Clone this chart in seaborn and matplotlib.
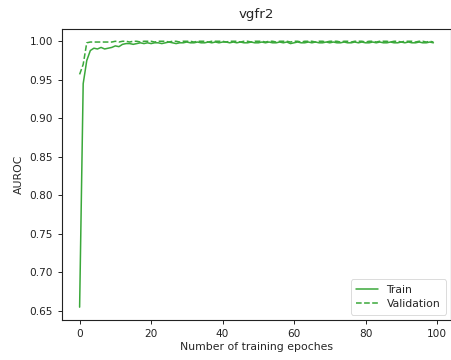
import matplotlib
matplotlib.use("Agg")
import matplotlib.pyplot as plt
import seaborn as sns
import pandas as pd
import numpy as np

title = "vgfr2"
epochs = list(range(100))
train_auroc = [
    0.655, 0.945, 0.975, 0.988, 0.991, 0.990, 0.992, 0.990, 0.991, 0.992,
    0.994, 0.993, 0.996, 0.997, 0.997, 0.996, 0.997, 0.998, 0.997, 0.998,
    0.997, 0.998, 0.998, 0.997, 0.998, 0.999, 0.998, 0.997, 0.998, 0.998,
    0.999, 0.998, 0.998, 0.999, 0.998, 0.998, 0.999, 0.998, 0.999, 0.998,
    0.999, 0.999, 0.998, 0.999, 0.998, 0.999, 0.998, 0.998, 0.999, 0.998,
    0.998, 0.999, 0.998, 0.999, 0.998, 0.998, 0.999, 0.998, 0.999, 0.997,
    0.998, 0.999, 0.998, 0.998, 0.999, 0.998, 0.999, 0.998, 0.998, 0.999,
    0.998, 0.999, 0.998, 0.998, 0.999, 0.998, 0.998, 0.999, 0.998, 0.999,
    0.998, 0.998, 0.999, 0.998, 0.999, 0.998, 0.998, 0.999, 0.998, 0.998,
    0.999, 0.998, 0.999, 0.998, 0.998, 0.999, 0.998, 0.998, 0.999, 0.998,
]
val_auroc = [
    0.957, 0.970, 0.998, 0.999, 0.999, 0.999, 0.999, 0.999, 0.999, 0.999,
    1.000, 0.999, 1.000, 1.000, 0.999, 1.000, 1.000, 0.999, 1.000, 1.000,
    1.000, 0.999, 1.000, 1.000, 1.000, 0.999, 1.000, 1.000, 0.999, 1.000,
    1.000, 1.000, 0.999, 1.000, 1.000, 1.000, 0.999, 1.000, 1.000, 1.000,
    1.000, 0.999, 1.000, 1.000, 1.000, 0.999, 1.000, 1.000, 0.999, 1.000,
    1.000, 1.000, 0.999, 1.000, 1.000, 0.999, 1.000, 1.000, 1.000, 0.999,
    1.000, 1.000, 0.999, 1.000, 1.000, 1.000, 0.999, 1.000, 1.000, 0.999,
    1.000, 1.000, 1.000, 0.999, 1.000, 1.000, 0.999, 1.000, 1.000, 1.000,
    0.999, 1.000, 1.000, 0.999, 1.000, 1.000, 1.000, 0.999, 1.000, 1.000,
    0.999, 1.000, 1.000, 1.000, 0.999, 1.000, 1.000, 0.999, 1.000, 0.999,
]
series_names = ["Train", "Validation"]
x_label = "Number of training epoches"
y_label = "AUROC"
x_ticks = [0, 20, 40, 60, 80, 100]
y_ticks = [0.65, 0.70, 0.75, 0.80, 0.85, 0.90, 0.95, 1.00]

sns.set_style("ticks")
plt.rcParams["font.family"] = ["DejaVu Sans"]

fs = 7.8
color = "#3aa83a"
fig = plt.figure(figsize=(4.52, 3.6), dpi=100)
ax = fig.add_axes([0.137, 0.111, 0.861, 0.808])

sns.lineplot(x=epochs, y=train_auroc, ax=ax, color=color, linewidth=1.1,
             label=series_names[0])
sns.lineplot(x=epochs, y=val_auroc, ax=ax, color=color, linewidth=1.1,
             linestyle="--", label=series_names[1])

ax.set_xlim(-4.95, 103.95)
ax.set_ylim(0.6383, 1.0157)
ax.set_xticks(x_ticks)
ax.set_yticks(y_ticks)
ax.set_yticklabels([f"{v:.2f}" for v in y_ticks])
ax.tick_params(labelsize=7.6, length=3, width=0.7, colors="#222222")
for s in ax.spines.values():
    s.set_visible(True)
    s.set_linewidth(0.8)
    s.set_color("#222222")
ax.set_title(title, fontsize=9.6, pad=8)
ax.set_xlabel(x_label, fontsize=fs, labelpad=2)
ax.set_ylabel(y_label, fontsize=fs, labelpad=4)
leg = ax.legend(loc="lower right", fontsize=fs, frameon=True, handlelength=2.0,
                borderpad=0.5, labelspacing=0.4)
leg.get_frame().set_linewidth(0.6)
leg.get_frame().set_edgecolor("#cccccc")

fig.savefig("out.png", dpi=100)
